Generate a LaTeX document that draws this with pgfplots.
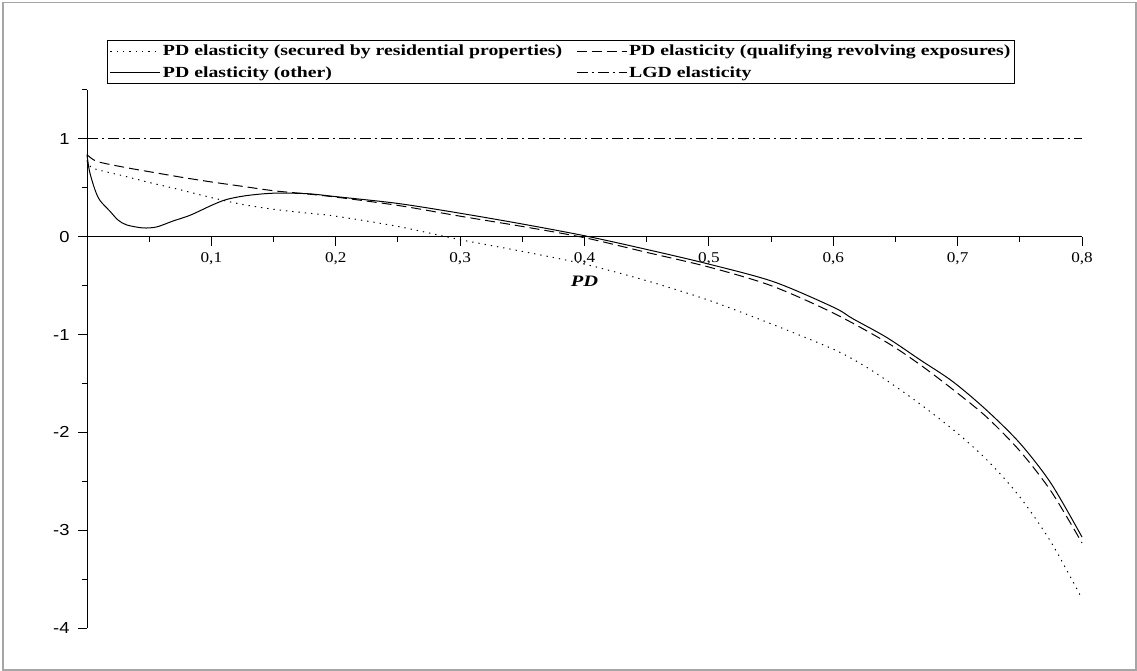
\documentclass[border=0pt]{standalone}
\usepackage{fontspec}
\setmainfont{Liberation Serif}
\newfontfamily\legfont[FakeStretch=1.28]{Liberation Serif}
\newfontfamily\tickfont[FakeStretch=1.15]{Liberation Serif}
\newfontfamily\ysans[FakeStretch=1.15]{Liberation Sans}
\usepackage{pgfplots}
\pgfplotsset{compat=1.18}

\pgfplotstableread{
x y
0 0.78
0.005 0.70
0.03 0.62
0.05 0.555
0.075 0.48
0.1 0.40
0.125 0.33
0.15 0.28
0.175 0.245
0.2 0.21
0.25 0.105
0.3 -0.03
0.35 -0.15
0.4 -0.28
0.45 -0.45
0.5 -0.65
0.55 -0.89
0.6 -1.15
0.625 -1.32
0.65 -1.53
0.675 -1.76
0.7 -2.01
0.725 -2.30
0.75 -2.66
0.775 -3.12
0.8 -3.70
}\residential

\pgfplotstableread{
x y
0 0.84
0.008 0.77
0.03 0.71
0.05 0.665
0.075 0.61
0.1 0.56
0.125 0.515
0.15 0.47
0.175 0.44
0.2 0.405
0.25 0.32
0.3 0.21
0.35 0.105
0.4 -0.01
0.45 -0.16
0.5 -0.31
0.55 -0.50
0.6 -0.78
0.643 -1.08
0.67 -1.31
0.696 -1.56
0.723 -1.84
0.75 -2.19
0.775 -2.60
0.8 -3.13
}\revolving

\pgfplotstableread{
x y
0 0.84
0.002 0.67
0.0064 0.48
0.0105 0.37
0.0185 0.26
0.025 0.17
0.032 0.12
0.045 0.09
0.056 0.10
0.069 0.16
0.083 0.22
0.1 0.32
0.112 0.38
0.128 0.42
0.15 0.445
0.177 0.44
0.2 0.41
0.25 0.34
0.3 0.24
0.35 0.13
0.4 0.01
0.45 -0.13
0.5 -0.28
0.552 -0.46
0.6 -0.72
0.616 -0.84
0.643 -1.03
0.67 -1.26
0.696 -1.48
0.723 -1.77
0.75 -2.11
0.775 -2.52
0.8 -3.07
}\other

\pgfplotstableread{
x y
0 1
0.8 1
}\lgd

\begin{document}
\begin{tikzpicture}
\useasboundingbox (-87bp,-43bp) rectangle (1050bp,628bp);
\draw[gray!70, line width=1.2bp] (-84bp,-42bp) rectangle (1049bp,625.5bp);
\begin{axis}[
  name=ax, at={(0,0)}, anchor=south west,
  scale only axis, width=995bp, height=538bp,
  xmin=0, xmax=0.8, ymin=-4, ymax=1.5,
  axis lines=middle,
  axis line style={-, line width=1bp, black},
  enlargelimits=false,
  clip=false,
  hide obscured x ticks=false, hide obscured y ticks=false,
  tick align=outside,
  major tick length=9bp, minor tick length=5bp,
  every tick/.style={black, line width=1bp},
  xtick={0.1,0.2,0.3,0.4,0.5,0.6,0.7,0.8},
  xticklabels={{0,1},{0,2},{0,3},{0,4},{0,5},{0,6},{0,7},{0,8}},
  minor xtick={0.05,0.15,0.25,0.35,0.45,0.55,0.65,0.75},
  ytick={-4,-3,-2,-1,0,1},
  yticklabels={-4,-3,-2,-1,0,1},
  minor ytick={-3.5,-2.5,-1.5,-0.5,0.5,1.5},
  xticklabel style={font=\tickfont\fontsize{15}{16}\selectfont, yshift=-3bp},
  yticklabel style={font=\ysans\fontsize{16}{17}\selectfont, xshift=-5bp},
  legend columns=2,
  legend style={at={(0.0201,1.0929)}, anchor=north west, draw=black, line width=1bp,
    font=\legfont\bfseries\fontsize{15.5}{18}\selectfont, inner sep=2.5bp, row sep=5bp,
    /tikz/every even column/.append style={column sep=12bp}},
  legend cell align=left,
  legend image code/.code={\draw[#1, line width=1bp] (0bp,0bp) -- (50bp,0bp);},
]
\addplot[black, line width=1bp, dash pattern=on 1.3bp off 5bp, smooth] table {\residential};
\addlegendentry{PD elasticity (secured by residential properties)}
\addplot[black, line width=1bp, dash pattern=on 10bp off 5bp, smooth] table {\revolving};
\addlegendentry{PD elasticity (qualifying revolving exposures)}
\addplot[black, line width=1bp, smooth] table {\other};
\addlegendentry{PD elasticity (other)}
\addplot[black, line width=1bp, dash pattern=on 11bp off 4bp on 2bp off 4bp] table {\lgd};
\addlegendentry{LGD elasticity}
\node[font=\legfont\bfseries\itshape\fontsize{16}{17}\selectfont] at (axis cs:0.4,0) [yshift=-45bp] {PD};
\end{axis}
\end{tikzpicture}
\end{document}
